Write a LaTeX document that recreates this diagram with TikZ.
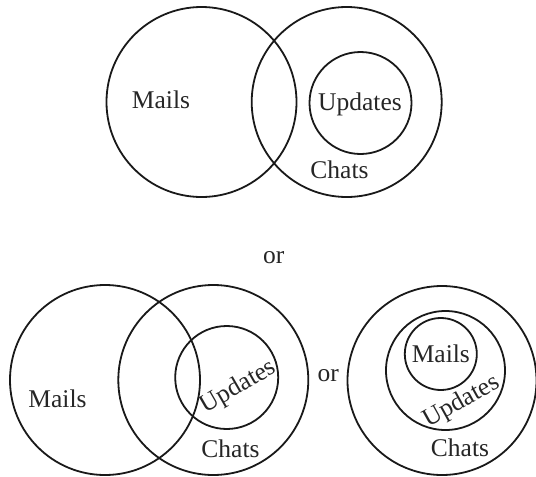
\documentclass[tikz,border=0pt]{standalone}
\usepackage{fontspec}
\setmainfont{Liberation Serif}
\begin{document}
\begin{tikzpicture}[x=1pt,y=-1pt,
  ring/.style={draw=black!90,line width=1.8pt,circle,inner sep=0pt,minimum size=#1},
  lbl/.style={font=\fontsize{25.5}{30}\selectfont,inner sep=0pt,text=black!85}]
\useasboundingbox (0,0) rectangle (536,477);
% top group
\node[ring=190pt] (tmails) at (201.5,102) {};
\node[ring=190pt] (tchats) at (346.7,102) {};
\node[ring=102pt] (tupd) at (360.5,103) {};
\node[lbl] (tmailsl) at (161,100) {Mails};
\node[lbl,anchor=base] (tupdl) at (360,110) {Updates};
\node[lbl,anchor=base] (tchatsl) at (339.5,178.3) {Chats};
\node[lbl,anchor=base] (or1) at (273.7,263.3) {or};
% bottom left group
\node[ring=190pt] (bmails) at (105,380) {};
\node[ring=190pt] (bchats) at (213.3,380) {};
\node[ring=103pt] (bupd) at (226.7,377.5) {};
\node[lbl] (bmailsl) at (57.5,399) {Mails};
\node[lbl,rotate=30] (bupdl) at (238.3,387.3) {Updates};
\node[lbl,anchor=base] (bchatsl) at (230.5,457.3) {Chats};
\node[lbl,anchor=base] (or2) at (328.3,381.7) {or};
% bottom right group
\node[ring=189pt] (rchats) at (442,380.5) {};
\node[ring=119pt] (rupd) at (445.5,370.5) {};
\node[ring=72pt] (rmails) at (440.8,354) {};
\node[lbl] (rmailsl) at (440.8,354) {Mails};
\node[lbl,rotate=29] (rupdl) at (461.7,401.7) {Updates};
\node[lbl,anchor=base] (rchatsl) at (460,456.7) {Chats};
\end{tikzpicture}
\end{document}
